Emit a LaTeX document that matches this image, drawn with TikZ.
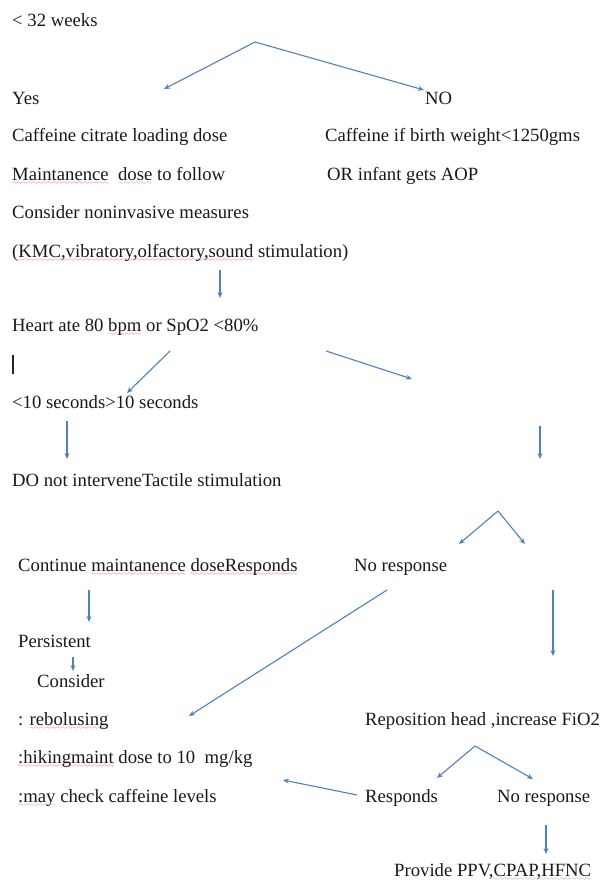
\documentclass[tikz,border=0pt]{standalone}
\usepackage{fontspec}
\setmainfont{Liberation Serif}
\usepackage{xcolor}
\usepackage{tikz}
\usetikzlibrary{arrows.meta}

\definecolor{wordblue}{RGB}{79,129,189}
\definecolor{spellred}{RGB}{225,45,45}
\definecolor{spellgreen}{RGB}{70,160,70}
% spell-check squiggles
\font\wavefont=lasy6
\newsavebox{\wavebox}
\newcommand{\wavy}[2]{\sbox{\wavebox}{#2}\rlap{\textcolor{#1}{\lower4pt\hbox to\wd\wavebox{\xleaders\hbox{\wavefont\char58}\hfill}}}\usebox{\wavebox}}

\begin{document}
\begin{tikzpicture}[
    x=1pt, y=-1pt,
    font=\fontsize{18.7}{22}\selectfont,
    >={Stealth[length=6pt,width=5pt]},
    % Styles
    txt/.style={anchor=mid west, inner sep=0pt, text=black!90},
    arrow/.style={->, draw=wordblue, line width=1.1pt}
]
\useasboundingbox (0,0) rectangle (602,883);

% --- Gestation ---
\node[txt] (weeks) at (12,24) {< 32 weeks};
\node[txt] (yes) at (12,102) {Yes};
\node[txt] (no) at (425,102) {NO};

% --- Yes branch ---
\node[txt] (loading) at (12,139) {Caffeine citrate loading dose};
\node[txt] (maint) at (12,178) {\wavy{spellred}{Maintanence}\ \ \wavy{spellgreen}{dose} to follow};
\node[txt] (noninv) at (12,216) {Consider noninvasive measures};
\node[txt] (kmc) at (12,255) {(\wavy{spellred}{KMC,vibratory,olfactory,sound} stimulation)};

% --- No branch ---
\node[txt] (bw) at (325,139) {Caffeine if birth weight<1250gms};
\node[txt] (aop) at (327,178) {OR infant gets AOP};

% --- Apnoea event ---
\node[txt] (heart) at (12,329) {Heart ate 80 \wavy{spellred}{bpm} or SpO2 <80\%};
\coordinate (caret_top) at (13,355);
\coordinate (caret_bot) at (13,374);
\draw[line width=1.6pt, black!85] (caret_top) -- (caret_bot);
\node[txt] (secs) at (12,406) {<10 seconds>10 seconds};
\node[txt] (tactile) at (12,484) {DO not interveneTactile stimulation};
\node[txt] (contd) at (18,569) {Continue \wavy{spellred}{maintanence} \wavy{spellred}{doseResponds}};
\node[txt] (nores1) at (354,569) {No response};

% --- Persistent ---
\node[txt] (persist) at (18,645) {Persistent};
\node[txt] (consider) at (37,685) {Consider};
\node[txt] (rebolus) at (18,723) {: \wavy{spellred}{rebolusing}};
\node[txt] (hiking) at (18,761) {\wavy{spellred}{:hikingmaint} dose to 10\ \ mg/kg};
\node[txt] (levels) at (18,800) {\wavy{spellgreen}{:may} check caffeine levels};

% --- Respiratory support ---
\node[txt] (reposition) at (365,723) {Reposition head ,increase FiO2};
\node[txt] (resp2) at (365,800) {Responds};
\node[txt] (nores2) at (497,800) {No response};
\node[txt] (ppv) at (394,874) {Provide PPV,\wavy{spellgreen}{CPAP,HFNC}};

% --- Arrow ends ---
\coordinate (fork_top) at (255,42);
\coordinate (yes_in) at (164,89);
\coordinate (no_in) at (424,90);
\coordinate (kmc_out) at (220,270);
\coordinate (heart_in) at (220,298);
\coordinate (short_out) at (170,351);
\coordinate (short_in) at (127,393);
\coordinate (long_out) at (326,351);
\coordinate (long_in) at (412,379);
\coordinate (short_down) at (67,421);
\coordinate (tactile_in) at (67,459);
\coordinate (long_down) at (540,426);
\coordinate (long_end) at (540,459);
\coordinate (fork_mid) at (498,511);
\coordinate (fork_mid_l) at (459,544);
\coordinate (fork_mid_r) at (525,544);
\coordinate (contd_out) at (89,590);
\coordinate (persist_in) at (89,622);
\coordinate (nores1_out) at (387,590);
\coordinate (rebolus_in) at (189,716);
\coordinate (right_out) at (553,590);
\coordinate (right_in) at (553,656);
\coordinate (persist_out) at (73,657);
\coordinate (consider_in) at (73,671);
\coordinate (fork_low) at (475,746);
\coordinate (fork_low_l) at (437,778);
\coordinate (fork_low_r) at (533,779);
\coordinate (resp2_out) at (357,795);
\coordinate (hiking_in) at (283,780);
\coordinate (nores2_out) at (546,825);
\coordinate (ppv_in) at (546,854);

% --- Connections ---
\draw[arrow] (fork_top) -- (yes_in);
\draw[arrow] (fork_top) -- (no_in);
\draw[arrow] (kmc_out) -- (heart_in);
\draw[arrow] (short_out) -- (short_in);
\draw[arrow] (long_out) -- (long_in);
\draw[arrow] (short_down) -- (tactile_in);
\draw[arrow] (long_down) -- (long_end);
\draw[arrow] (fork_mid) -- (fork_mid_l);
\draw[arrow] (fork_mid) -- (fork_mid_r);
\draw[arrow] (contd_out) -- (persist_in);
\draw[arrow] (nores1_out) -- (rebolus_in);
\draw[arrow] (right_out) -- (right_in);
\draw[arrow] (persist_out) -- (consider_in);
\draw[arrow] (fork_low) -- (fork_low_l);
\draw[arrow] (fork_low) -- (fork_low_r);
\draw[arrow] (resp2_out) -- (hiking_in);
\draw[arrow] (nores2_out) -- (ppv_in);

\end{tikzpicture}
\end{document}
